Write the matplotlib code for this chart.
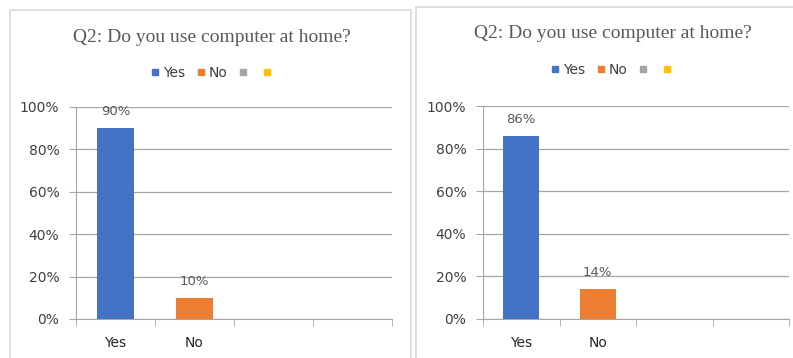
import matplotlib.pyplot as plt
from matplotlib.patches import Rectangle
from matplotlib.lines import Line2D
from matplotlib.ticker import PercentFormatter

title = "Q2: Do you use computer at home?"
categories = ["Yes", "No", "", ""]
bar_colors = ["#4472C4", "#ED7D31"]
legend_labels = ["Yes", "No", "", ""]
legend_colors = ["#4472C4", "#ED7D31", "#A5A5A5", "#FFC000"]
left_values = [0.90, 0.10]
right_values = [0.86, 0.14]

W, H = 793, 358
fig = plt.figure(figsize=(W / 100, H / 100), dpi=100)


def px(x0, y0, x1, y1):
    # pixel box (top-left origin) -> figure fraction rect
    return [x0 / W, 1 - y1 / H, (x1 - x0) / W, (y1 - y0) / H]


def panel(box, axbox, values, title_xy, legend_xy):
    # light frame round each chart
    x0, y0, x1, y1 = box
    fig.patches.append(Rectangle((x0 / W, 1 - y1 / H), (x1 - x0) / W, (y1 - y0) / H,
                                 transform=fig.transFigure, fill=False,
                                 edgecolor="#D9D9D9", linewidth=1.2))
    fig.text(title_xy[0] / W, 1 - title_xy[1] / H, title, ha="center", va="center",
             fontsize=14, family="Liberation Serif", color="#595959")

    ax = fig.add_axes(px(*axbox))
    n = len(categories)
    ax.bar(range(len(values)), values, width=0.47, color=bar_colors, zorder=3)
    for i, v in enumerate(values):
        ax.annotate(f"{v:.0%}", (i, v), xytext=(0, 12), textcoords="offset points",
                    ha="center", va="center", fontsize=9.5, color="#595959")
    ax.set_xlim(-0.5, n - 0.5)
    ax.set_ylim(0, 1)
    ax.set_yticks([0, 0.2, 0.4, 0.6, 0.8, 1.0])
    ax.yaxis.set_major_formatter(PercentFormatter(1.0, decimals=0))
    ax.set_xticks(range(n))
    ax.set_xticklabels(categories, fontsize=10)
    # category boundary ticks
    ax.set_xticks([i - 0.5 for i in range(n + 1)], minor=True)
    ax.tick_params(axis="x", which="major", length=0, pad=12, labelcolor="#262626")
    ax.tick_params(axis="x", which="minor", length=5, color="#A6A6A6")
    ax.tick_params(axis="y", length=5, color="#A6A6A6", labelsize=10, pad=7,
                   labelcolor="#404040")
    ax.grid(axis="y", color="#A6A6A6", linewidth=0.9, zorder=0)
    for s in ["top", "right"]:
        ax.spines[s].set_visible(False)
    for s in ["left", "bottom"]:
        ax.spines[s].set_color("#A6A6A6")

    handles = [Line2D([], [], marker="s", linestyle="", markersize=4.5,
                      markerfacecolor=c, markeredgecolor=c) for c in legend_colors]
    fig.legend(handles, legend_labels, loc="center",
               bbox_to_anchor=(legend_xy[0] / W, 1 - legend_xy[1] / H),
               ncol=4, frameon=False, fontsize=10, handlelength=0.6,
               handletextpad=0.3, columnspacing=0.8, labelcolor="#404040")
    return ax


panel((10, 10, 411, 362), (76, 107, 392, 319), left_values, (212, 37), (213, 73))
panel((416, 7, 798, 362), (483, 106, 789, 319), right_values, (613, 33), (613, 70))

fig.savefig("out.png", dpi=100)
